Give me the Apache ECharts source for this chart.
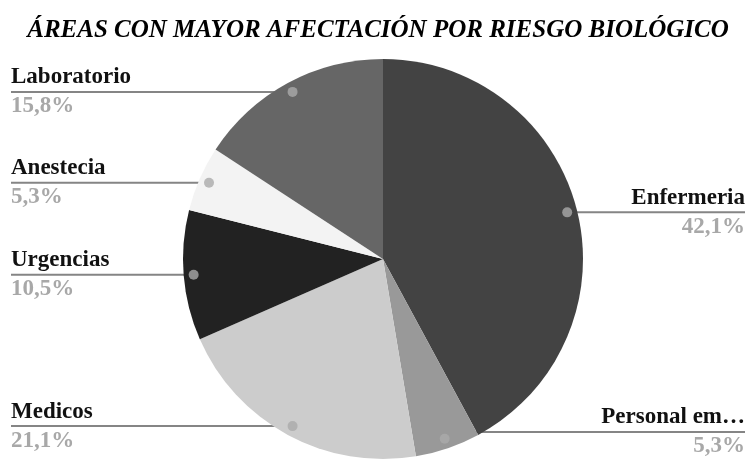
<!DOCTYPE html>
<html>
<head>
<meta charset="utf-8">
<script src="https://cdn.jsdelivr.net/npm/echarts@6/dist/echarts.min.js"></script>
<style>html,body{margin:0;padding:0;background:#fff}#c{width:756px;height:460px}</style>
</head>
<body>
<div id="c"></div>
<script>
const categories = ['Enfermeria', 'Personal em…', 'Medicos', 'Urgencias', 'Anestecia', 'Laboratorio'];
const values = [8, 1, 4, 2, 1, 3];
const colors = ['#434343', '#999999', '#cccccc', '#222222', '#f3f3f3', '#666666'];
const titleText = 'ÁREAS CON MAYOR AFECTACIÓN POR RIESGO BIOLÓGICO';

const FONT = 'Liberation Serif';
const chart = echarts.init(document.getElementById('c'), null, {renderer: 'canvas'});
const total = values.reduce((a, b) => a + b, 0);
const CX = 383, CY = 259, R = 200, RDOT = 190;

// midpoints of each slice for the label dots
const mids = [];
let acc = 0;
values.forEach(v => { mids.push(acc + v / 2); acc += v; });

const pieData = categories.map((n, i) => ({name: n, value: values[i], itemStyle: {color: colors[i]}}));

chart.setOption({
  backgroundColor: '#ffffff',
  animation: false,
  textStyle: {fontFamily: FONT},
  title: {
    text: titleText,
    left: 'center',
    top: 13,
    padding: [5, 0, 5, 10],
    textStyle: {fontFamily: FONT, fontSize: 25, fontWeight: 'bold', fontStyle: 'italic', color: '#000'}
  },
  polar: {center: [CX, CY], radius: R},
  angleAxis: {type: 'value', min: 0, max: total, startAngle: 90, clockwise: true, show: false},
  radiusAxis: {type: 'value', min: 0, max: R, show: false},
  series: [
    {
      type: 'pie',
      center: [CX, CY],
      radius: R,
      startAngle: 90,
      clockwise: true,
      silent: true,
      label: {show: false},
      labelLine: {show: false},
      itemStyle: {borderWidth: 0},
      data: pieData
    },
    {
      type: 'pie',
      center: [CX, CY],
      radius: RDOT,
      startAngle: 90,
      clockwise: true,
      silent: true,
      itemStyle: {color: 'rgba(0,0,0,0)'},
      label: {
        show: true,
        alignTo: 'edge',
        edgeDistance: 11,
        minMargin: 4,
        fontFamily: FONT,
        fontWeight: 'bold',
        fontSize: 23,
        formatter: p => '{n|' + p.name + '}\n{v|' + p.percent.toFixed(1).replace('.', ',') + '%}',
        rich: {
          n: {fontFamily: FONT, fontSize: 23, fontWeight: 'bold', color: '#111', lineHeight: 29},
          v: {fontFamily: FONT, fontSize: 23, fontWeight: 'bold', color: '#a8a8a8', lineHeight: 29}
        }
      },
      labelLine: {show: true, length: 0, length2: 10, lineStyle: {color: '#858585', width: 2}},
      labelLayout: function (params) {
        const isLeft = params.labelRect.x < chart.getWidth() / 2;
        const pts = params.labelLinePoints;
        if (pts) {
          pts[2][0] = isLeft ? params.labelRect.x : params.labelRect.x + params.labelRect.width;
        }
        return {labelLinePoints: pts};
      },
      data: categories.map((n, i) => ({name: n, value: values[i]}))
    },
    {
      type: 'scatter',
      coordinateSystem: 'polar',
      symbol: 'circle',
      symbolSize: 10,
      silent: true,
      z: 5,
      itemStyle: {color: '#aaaaaa'},
      data: mids.map(m => [RDOT, m])
    }
  ]
});
</script>
</body>
</html>
